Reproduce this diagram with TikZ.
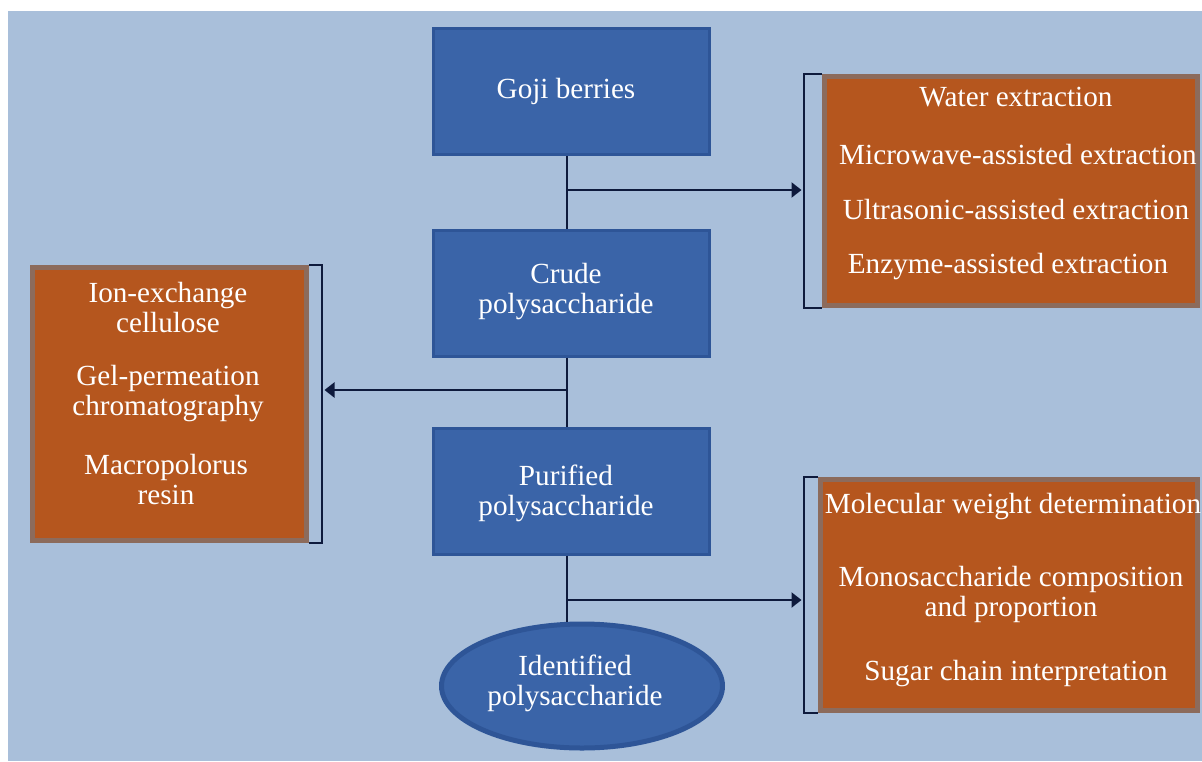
\documentclass[tikz,border=0pt]{standalone}
\usepackage{fontspec}
\setmainfont{Liberation Serif}
\usetikzlibrary{arrows.meta,shapes.geometric}
\definecolor{bg}{HTML}{A9BFDA}
\definecolor{bluef}{HTML}{3A64A8}
\definecolor{blued}{HTML}{2E5597}
\definecolor{orf}{HTML}{B5561E}
\definecolor{ord}{HTML}{8C6B5C}
\definecolor{ln}{HTML}{0E1A3C}
\begin{document}
\begin{tikzpicture}[x=1pt,y=-1pt,
  txt/.style={text=white,font=\fontsize{29.2}{30}\selectfont,align=center,inner sep=0pt},
  bluebox/.style={draw=blued,fill=bluef,line width=3pt,minimum width=276pt,minimum height=126pt,inner sep=0pt},
  blueell/.style={ellipse,draw=blued,fill=bluef,line width=5pt,minimum width=281pt,minimum height=124pt,inner sep=0pt},
  orbox/.style={draw=ord,fill=orf,line width=5pt,inner sep=0pt},
  conn/.style={draw=ln,line width=2.4pt},
  arr/.style={conn,shorten >=2.5pt,-{Triangle[length=10pt,width=15pt]}}]
\useasboundingbox (0,0) rectangle (1202,761);
\fill[bg] (8,11) rectangle (1202,761);
% main column
\node[bluebox] (goji) at (571.5,91.5) {};
\node[bluebox] (crude) at (571.5,293) {};
\node[bluebox] (puri) at (571.5,491) {};
\node[blueell] (iden) at (582,686) {};
\node[txt] (gojit) at (566,91) {Goji berries};
\node[txt] (crudet) at (566,291.5) {Crude\\polysaccharide};
\node[txt] (purit) at (566,493.5) {Purified\\polysaccharide};
\node[txt] (ident) at (575,683.5) {Identified\\polysaccharide};
% orange boxes
\node[orbox,minimum width=373pt,minimum height=229pt] (tr) at (1011,191) {};
\node[orbox,minimum width=274pt,minimum height=273pt] (lb) at (169.5,404) {};
\node[orbox,minimum width=377pt,minimum height=231pt] (br) at (1009,595) {};
% texts in orange boxes
\node[txt] (t1) at (1016,97) {Water extraction};
\node[txt] (t2) at (1018,155) {Microwave-assisted extraction};
\node[txt] (t3) at (1016,210) {Ultrasonic-assisted extraction};
\node[txt] (t4) at (1008,267) {Enzyme-assisted extraction};
\node[txt] (l1) at (168,308) {Ion-exchange\\cellulose};
\node[txt] (l2) at (168,394) {Gel-permeation\\chromatography};
\node[txt] (l3) at (166,480) {Macropolorus\\resin};
\node[txt] (b1) at (1013,507) {Molecular weight determination};
\node[txt] (b2) at (1011,594) {Monosaccharide composition\\and proportion};
\node[txt] (b3) at (1016,674) {Sugar chain interpretation};
% spine
\coordinate (sp) at (567,0);
\coordinate (rk) at (804,0);
\coordinate (lk) at (322,0);
\coordinate (j1) at (567,190);
\coordinate (j2) at (567,390);
\coordinate (j3) at (567,600);
\draw[conn] (goji.south -| sp) -- (crude.north -| sp);
\draw[conn] (crude.south -| sp) -- (puri.north -| sp);
\draw[conn] (puri.south -| sp) -- (iden.north -| sp);
% brackets
\draw[conn] (tr.north west) -- (tr.north west -| rk) -- (tr.south west -| rk) -- (tr.south west);
\draw[conn] (lb.north east) -- (lb.north east -| lk) -- (lb.south east -| lk) -- (lb.south east);
\draw[conn] (br.north west) -- (br.north west -| rk) -- (br.south west -| rk) -- (br.south west);
% arrows
\draw[arr] (j1) -- (j1 -| rk);
\draw[arr] (j2) -- (j2 -| lk);
\draw[arr] (j3) -- (j3 -| rk);
\end{tikzpicture}
\end{document}
